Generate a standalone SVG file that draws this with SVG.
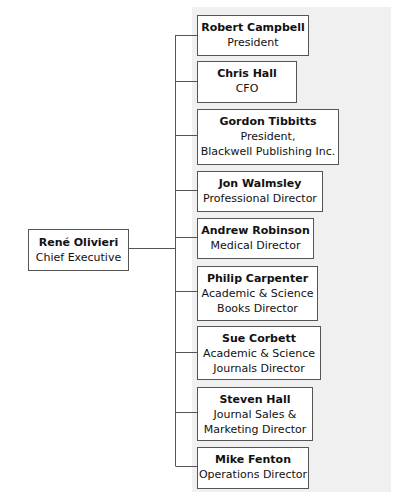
<svg xmlns="http://www.w3.org/2000/svg" width="400" height="500" viewBox="0 0 400 500">
<style>
.box{fill:#fff;stroke:#555;stroke-width:1}
.ln{stroke:#555;stroke-width:1;fill:none}
text{font-family:"DejaVu Sans",Verdana,sans-serif;font-size:11px;fill:#111;text-anchor:middle}
.b{font-weight:bold}
</style>
<rect x="192" y="7" width="199" height="485" fill="#f0f0f0"/>
<g id="connectors">
<path class="ln" d="M175.5 35V466M128 248.5H175.5M175.5 35.5H197M175.5 81.5H197M175.5 135.5H197M175.5 190.5H197M175.5 237.5H197M175.5 291.5H197M175.5 352.5H197M175.5 412.5H197M175.5 466.5H197"/>
</g>
<g id="rene"><rect class="box" x="28.5" y="229.5" width="100" height="41"/><text x="78.5" y="246" class="b">René Olivieri</text><text x="78.5" y="261">Chief Executive</text></g>
<g id="robert"><rect class="box" x="197.5" y="15.5" width="111" height="40"/><text x="253" y="31" class="b">Robert Campbell</text><text x="253" y="46">President</text></g>
<g id="chris"><rect class="box" x="197.5" y="61.5" width="99" height="41"/><text x="247" y="77" class="b">Chris Hall</text><text x="247" y="92">CFO</text></g>
<g id="gordon"><rect class="box" x="197.5" y="109.5" width="141" height="55"/><text x="268" y="125" class="b">Gordon Tibbitts</text><text x="268" y="140">President,</text><text x="268" y="155">Blackwell Publishing Inc.</text></g>
<g id="jon"><rect class="box" x="197.5" y="171.5" width="125" height="40"/><text x="260" y="187" class="b">Jon Walmsley</text><text x="260" y="202">Professional Director</text></g>
<g id="andrew"><rect class="box" x="197.5" y="218.5" width="116" height="40"/><text x="255.5" y="234" class="b">Andrew Robinson</text><text x="255.5" y="249">Medical Director</text></g>
<g id="philip"><rect class="box" x="197.5" y="266.5" width="120" height="54"/><text x="257.5" y="282" class="b">Philip Carpenter</text><text x="257.5" y="297">Academic &amp; Science</text><text x="257.5" y="312">Books Director</text></g>
<g id="sue"><rect class="box" x="197.5" y="326.5" width="123" height="53"/><text x="259" y="342" class="b">Sue Corbett</text><text x="259" y="357">Academic &amp; Science</text><text x="259" y="372">Journals Director</text></g>
<g id="steven"><rect class="box" x="197.5" y="387.5" width="115" height="53"/><text x="255" y="403" class="b">Steven Hall</text><text x="255" y="418">Journal Sales &amp;</text><text x="255" y="433">Marketing Director</text></g>
<g id="mike"><rect class="box" x="197.5" y="447.5" width="111" height="41"/><text x="253" y="463" class="b">Mike Fenton</text><text x="253" y="478">Operations Director</text></g>
</svg>
